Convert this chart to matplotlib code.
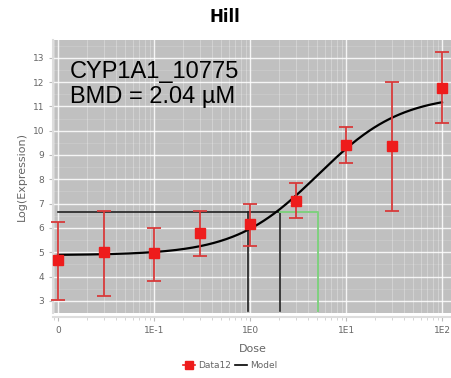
import numpy as np
import matplotlib
matplotlib.use("Agg")
import matplotlib.pyplot as plt
from matplotlib.lines import Line2D

# dose groups and response summary (log expression)
doses = [0, 0.03, 0.1, 0.3, 1, 3, 10, 30, 100]
means = [4.7, 5.0, 4.95, 5.8, 6.15, 7.1, 9.4, 9.35, 11.75]
lower = [3.05, 3.2, 3.8, 4.85, 5.25, 6.4, 8.65, 6.7, 10.3]
upper = [6.25, 6.7, 6.0, 6.7, 7.0, 7.85, 10.15, 12.0, 13.25]

# Hill model fit: y = base + span * x^n / (k^n + x^n)
hill_base = 4.88
hill_span = 6.61
hill_k = 5.1
hill_n = 1.0

gene_label = "CYP1A1_10775"
bmd = 2.04
bmdl = 0.95
bmdu = 5.1
bmr_level = 6.65

zero_pos = 0.01  # where dose 0 sits on the log axis
xticks = [0.01, 0.1, 1, 10, 100]
xtick_labels = ["0", "1E-1", "1E0", "1E1", "1E2"]
yticks = list(range(3, 14))

txt = "#666666"
red = "#ee1c1c"
bar_red = "#d83a3a"


def hill(x):
    return hill_base + hill_span * x**hill_n / (hill_k**hill_n + x**hill_n)


fig = plt.figure(figsize=(4.51, 3.78), dpi=100)
ax = fig.add_axes([53 / 451, 1 - 313 / 378, 400 / 451, 273 / 378])
ax.set_facecolor("#c0c0c0")
ax.set_xscale("log")
ax.set_xlim(0.00887, 130)
ax.set_ylim(2.6, 13.73)

ax.grid(which="major", color="white", lw=1.0, alpha=0.85)
ax.grid(which="minor", axis="x", color="white", lw=0.5, alpha=0.4)
ax.set_yticks(np.arange(2.5, 14, 0.5), minor=True)
ax.grid(which="minor", axis="y", color="white", lw=0.4, alpha=0.25)
ax.set_axisbelow(True)

for s in ["top", "right"]:
    ax.spines[s].set_visible(False)
ax.spines["left"].set_color("#dddddd")
ax.spines["bottom"].set_color("#dddddd")
ax.spines["bottom"].set_position(("outward", 3))
ax.spines["left"].set_linewidth(1.5)
ax.spines["bottom"].set_linewidth(1.5)

xpos = np.array([d if d > 0 else zero_pos for d in doses])
m = np.array(means)
yerr = [m - np.array(lower), np.array(upper) - m]

# model curve
xs = np.logspace(np.log10(zero_pos), 2, 300)
ax.plot(xs, hill(xs), color="black", lw=1.6, zorder=4)

# BMD / BMDL / BMDU markers
ax.plot([zero_pos, bmd], [bmr_level, bmr_level], color="#222222", lw=1.2, zorder=3)
ax.plot([bmdl, bmdl], [2.6, bmr_level], color="#222222", lw=1.2, zorder=3)
ax.plot([bmd, bmd], [2.6, bmr_level], color="#222222", lw=1.2, zorder=3)
ax.plot([bmd, bmdu, bmdu], [bmr_level, bmr_level, 2.6], color="#7fd07f", lw=1.4, zorder=3)

ax.errorbar(xpos, m, yerr=yerr, fmt="s", color=red, ecolor=bar_red,
            elinewidth=1.3, capsize=5, capthick=1.3, markersize=7,
            zorder=5, clip_on=False)

ax.set_xticks(xticks)
ax.set_xticklabels(xtick_labels)
ax.set_yticks(yticks)
ax.tick_params(axis="both", which="major", labelsize=6.5, labelcolor=txt,
               color="#bbbbbb", length=3)
ax.tick_params(axis="x", which="minor", color="#cccccc", length=2, labelbottom=False)
ax.tick_params(axis="y", which="minor", length=0)

ax.set_xlabel("Dose", fontsize=8, color=txt, labelpad=6)
ax.set_ylabel("Log(Expression)", fontsize=8, color=txt, labelpad=4)

ax.text(17 / 400, 1 - 21 / 273, gene_label + "\nBMD = %.2f \u00b5M" % bmd,
        transform=ax.transAxes, fontsize=17, family="Liberation Sans",
        color="black", va="top", ha="left", linespacing=1.15)

fig.text(225 / 451, 1 - 17 / 378, "Hill", ha="center", va="center",
         fontsize=12, fontweight="heavy", color="black")

handles = [
    Line2D([], [], color=red, marker="s", markersize=6, lw=1.2),
    Line2D([], [], color="black", lw=1.2),
]
fig.legend(handles, ["Data12", "Model"], loc="center",
           bbox_to_anchor=(230 / 451, 1 - 366 / 378), ncol=2, frameon=False,
           fontsize=6.5, labelcolor=txt, handlelength=1.4, handletextpad=0.3,
           columnspacing=0.4)

fig.savefig("out.png", dpi=100)
